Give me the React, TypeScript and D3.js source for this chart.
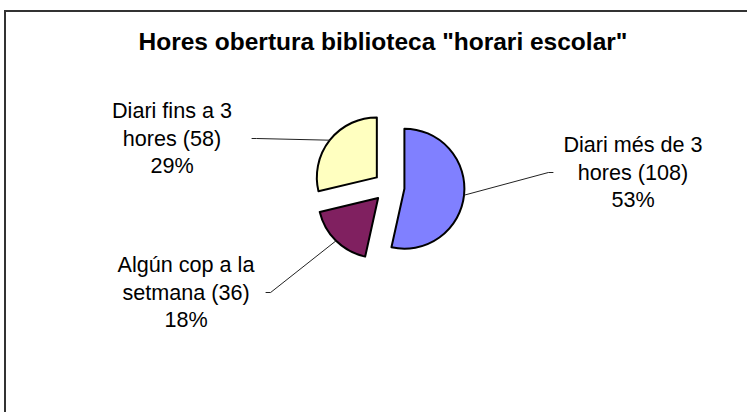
import * as d3 from "d3";

// Hores obertura biblioteca - exploded pie
const title = 'Hores obertura biblioteca "horari escolar"';
const labelLines = [
  ["Diari més de 3", "hores"],
  ["Algún cop a la", "setmana"],
  ["Diari fins a 3", "hores"],
];
const categories = labelLines.map((l) => l.join(" "));
const values = [108, 36, 58];
const colors = ["#8080FF", "#802060", "#FFFFC0"];

const W = 747;
const H = 412;
const cx = 389;
const cy = 187;
const radius = 60;
const explode = 15.5;
const lineGap = 27.5;
// label block anchors: center x, first baseline
const labelPos = [
  { x: 633, y: 152, side: "left" },
  { x: 186, y: 272, side: "right" },
  { x: 172, y: 118, side: "right" },
];

export default function App() {
  const total = d3.sum(values);
  const pie = d3
    .pie<number>()
    .sort(null)
    .startAngle(0)
    .endAngle(2 * Math.PI)
    .value((d) => d);
  const arcs = pie(values);
  const arc = d3.arc<d3.PieArcDatum<number>>().innerRadius(0).outerRadius(radius);
  const font = "'Liberation Sans', Arial, sans-serif";

  return (
    <svg
      width={W}
      height={H}
      style={{ position: "absolute", left: 0, top: 0, background: "#fff" }}
    >
      <rect x={5} y={11} width={W + 20} height={H + 20} fill="#fff" stroke="#333" strokeWidth={2} />
      <text
        x={383}
        y={50}
        textAnchor="middle"
        fontFamily={font}
        fontWeight="bold"
        fontSize={24.5}
        fill="#000"
      >
        {title}
      </text>
      {arcs.map((a, i) => {
        const mid = (a.startAngle + a.endAngle) / 2;
        const ox = cx + explode * Math.sin(mid);
        const oy = cy - explode * Math.cos(mid);
        const ax = ox + radius * Math.sin(mid);
        const ay = oy - radius * Math.cos(mid);
        const lp = labelPos[i];
        const pct = Math.round((values[i] / total) * 100);
        const lines = [labelLines[i][0], `${labelLines[i][1]} (${values[i]})`, `${pct}%`];
        return (
          <g key={categories[i]}>
            <path
              d={arc(a) ?? ""}
              transform={`translate(${ox},${oy})`}
              fill={colors[i]}
              stroke="#000"
              strokeWidth={2}
              strokeLinejoin="round"
            />
            <LeaderAndLabel lines={lines} lp={lp} ax={ax} ay={ay} font={font} />
          </g>
        );
      })}
    </svg>
  );
}

function LeaderAndLabel({
  lines,
  lp,
  ax,
  ay,
  font,
}: {
  lines: string[];
  lp: { x: number; y: number; side: string };
  ax: number;
  ay: number;
  font: string;
}) {
  // approx half width of widest line for the box edge
  const fs = 21.6;
  const half = (d3.max(lines, (l) => l.length) ?? 0) * fs * 0.5 * 0.5 + 4;
  const ly = lp.y + lineGap - 7;
  const bx = lp.side === "left" ? lp.x - half : lp.x + half;
  const bx2 = lp.side === "left" ? bx - 5 : bx + 5;
  return (
    <g>
      <polyline
        points={`${bx},${ly} ${bx2},${ly} ${ax},${ay}`}
        fill="none"
        stroke="#222"
        strokeWidth={1}
      />
      {lines.map((t, j) => (
        <text
          key={j}
          x={lp.x}
          y={lp.y + j * lineGap}
          textAnchor="middle"
          fontFamily={font}
          fontSize={fs}
          fill="#000"
        >
          {t}
        </text>
      ))}
    </g>
  );
}
